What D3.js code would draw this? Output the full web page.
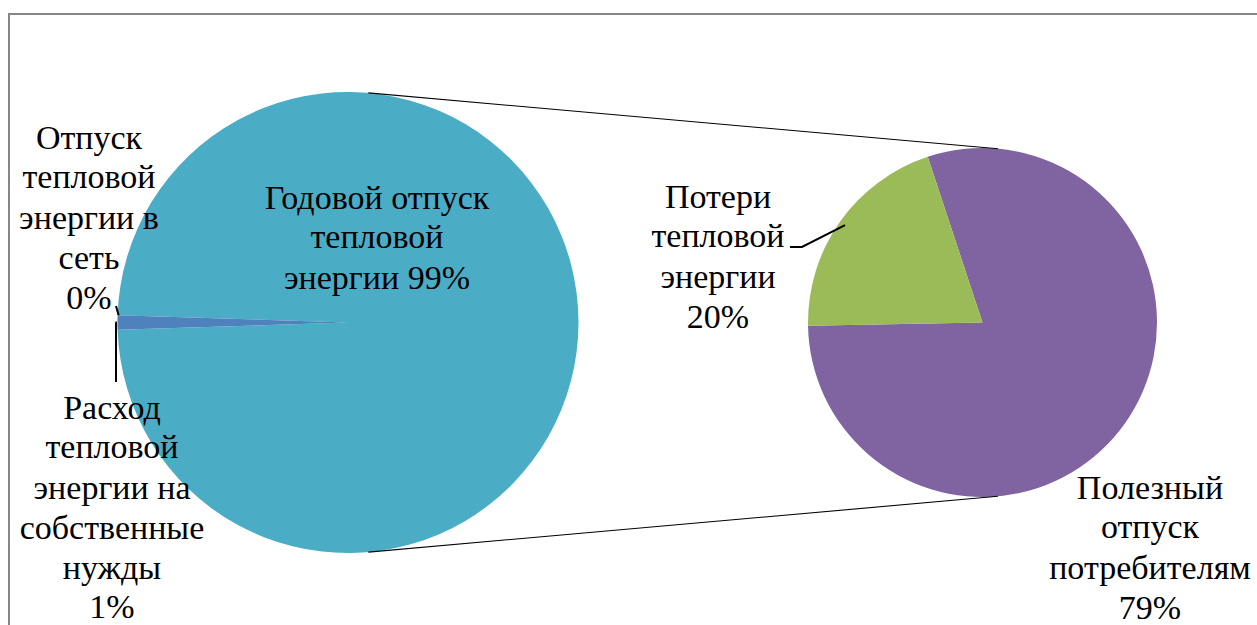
<!DOCTYPE html>
<html><head><meta charset="utf-8">
<script src="https://cdn.jsdelivr.net/npm/d3@7"></script>
<style>body{margin:0;background:#fff}svg{display:block;position:absolute;left:0;top:0}
#wrap{position:relative;width:1257px;height:625px;overflow:hidden}
.lbl{position:absolute;width:300px;text-align:center;font-family:'Liberation Serif';font-size:30px;line-height:35.3px;color:#000;white-space:nowrap;transform:scale(1.1333);transform-origin:50% 0}</style>
</head><body>
<div id="wrap"><svg id="c" width="1257" height="625"></svg></div>
<script>
// Main pie (order as drawn clockwise starting with the big slice)
const mainCategories = ["Годовой отпуск тепловой энергии", "Расход тепловой энергии на собственные нужды", "Отпуск тепловой энергии в сеть"];
const mainValues = [99, 1, 0];
const mainColors = ["#4BACC6", "#4F81BD", "#F79646"];
// Secondary pie (breakdown of the 99% slice)
const subCategories = ["Полезный отпуск потребителям", "Потери тепловой энергии"];
const subValues = [79, 20];
const subColors = ["#8064A2", "#9BBB59"];

const svg = d3.select("#c");
const wrap = d3.select("#wrap");
svg.append("rect").attr("x", 9).attr("y", 14).attr("width", 1300).attr("height", 700)
  .attr("fill", "#fff").attr("stroke", "#868686").attr("stroke-width", 2);

const M = {cx: 348, cy: 322.5, r: 230.5};
const S = {cx: 982.5, cy: 322.5, r: 174.5};
const deg = Math.PI / 180;

// main pie: big slice centered at 3 o'clock
const mainTotal = d3.sum(mainValues);
const bigSpan = mainValues[0] / mainTotal * 2 * Math.PI;
const mainPie = d3.pie().sort(null).value(d => d.v)
  .startAngle(Math.PI / 2 - bigSpan / 2).endAngle(Math.PI / 2 - bigSpan / 2 + 2 * Math.PI);
const mainArcs = mainPie(mainCategories.map((c, i) => ({c, v: mainValues[i], col: mainColors[i]})));
const arcM = d3.arc().innerRadius(0).outerRadius(M.r);
const gM = svg.append("g").attr("transform", `translate(${M.cx},${M.cy})`);
gM.selectAll("path").data(mainArcs.filter(d => d.data.v > 0)).join("path")
  .attr("d", arcM).attr("fill", d => d.data.col);

// secondary pie
const subStart = -18.3 * deg;
const subPie = d3.pie().sort(null).value(d => d.v).startAngle(subStart).endAngle(subStart + 2 * Math.PI);
const subArcs = subPie(subCategories.map((c, i) => ({c, v: subValues[i], col: subColors[i]})));
const arcS = d3.arc().innerRadius(0).outerRadius(S.r);
const gS = svg.append("g").attr("transform", `translate(${S.cx},${S.cy})`);
gS.selectAll("path").data(subArcs).join("path").attr("d", arcS).attr("fill", d => d.data.col);

// connector lines: external tangents
const dist = S.cx - M.cx;
const phi = Math.asin((M.r - S.r) / dist);
[-1, 1].forEach(s => {
  const ax = M.cx + M.r * Math.sin(phi), ay = M.cy + s * M.r * Math.cos(phi);
  const bx = S.cx + S.r * Math.sin(phi), by = S.cy + s * S.r * Math.cos(phi);
  svg.append("line").attr("x1", ax).attr("y1", ay).attr("x2", bx).attr("y2", by)
    .attr("stroke", "#000").attr("stroke-width", 1.1);
});

function pt(c, a, r) { return [c.cx + r * Math.sin(a), c.cy - r * Math.cos(a)]; }

// leader lines
const a0 = mainArcs[2].startAngle;
const p0 = pt(M, a0, M.r - 1);
svg.append("line").attr("x1", p0[0]).attr("y1", p0[1]).attr("x2", 116).attr("y2", 306)
  .attr("stroke", "#000").attr("stroke-width", 2);
const a1 = (mainArcs[1].startAngle + mainArcs[1].endAngle) / 2;
const p1 = pt(M, a1, M.r + 2);
svg.append("path").attr("d", `M${p1[0]},${p1[1]}L116,${p1[1]}L116,382`)
  .attr("fill", "none").attr("stroke", "#000").attr("stroke-width", 2);
const ag = (subArcs[1].startAngle + subArcs[1].endAngle) / 2;
const pg = pt(S, ag, S.r - 6);
svg.append("path").attr("d", `M${pg[0]},${pg[1]}L802,247L790,247`)
  .attr("fill", "none").attr("stroke", "#000").attr("stroke-width", 2);

// labels (HTML, serif face at 30px, scaled up); y0 = first baseline
function label(lines, x, y0) {
  wrap.append("div").attr("class", "lbl")
    .style("left", (x - 150) + "px").style("top", (y0 - 31.5) + "px")
    .selectAll("div").data(lines).join("div")
    .style("font-family", "'Liberation Serif'").text(d => d);
}
const pct = v => v + "%";
label(["Отпуск", "тепловой", "энергии в", "сеть", pct(mainValues[2])], 89, 148);
label(["Годовой отпуск", "тепловой", "энергии " + pct(mainValues[0])], 377, 208);
label(["Расход", "тепловой", "энергии на", "собственные", "нужды", pct(mainValues[1])], 112, 418);
label(["Потери", "тепловой", "энергии", pct(subValues[1])], 718, 207);
label(["Полезный", "отпуск", "потребителям", pct(subValues[0])], 1150, 498);
</script>
</body></html>
